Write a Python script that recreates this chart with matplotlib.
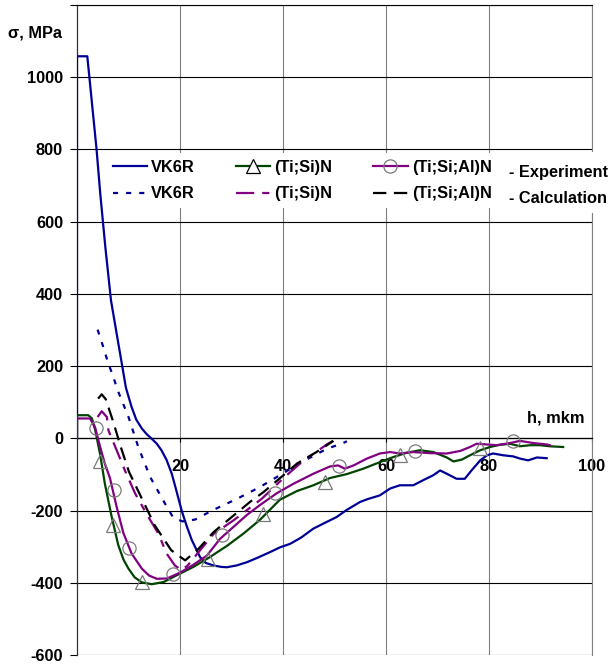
import matplotlib
matplotlib.use("Agg")
import matplotlib.pyplot as plt
from matplotlib.lines import Line2D
from matplotlib.patches import Rectangle

plt.rcParams['font.family'] = ['Liberation Sans', 'DejaVu Sans']
plt.rcParams['font.weight'] = 'bold'

# ---------------- data ----------------
vk_exp_x = [0, 0, 2.0, 3.8, 4.5, 5.5, 6.6, 7.7, 8.7, 9.5, 10.6, 11.5, 12.6, 13.5, 14.5, 15.5,
            16.4, 17.4, 18.4, 19.3, 20.3, 21.3, 22.3, 23.9, 25.0, 26.5, 28.0, 29.1, 31.0, 33.0,
            35.0, 37.5, 39.4, 41.4, 43.5, 45.9, 48.0, 50.4, 52.4, 55.0, 56.5, 58.8, 60.8, 62.7,
            65.3, 67.2, 69.2, 70.5, 71.8, 73.7, 75.3, 76.6, 78.3, 79.6, 80.8, 82.8, 84.7, 86.0,
            87.6, 89.3, 91.2]
vk_exp_y = [0, 1058, 1058, 800, 680, 530, 382, 290, 207, 140, 87, 52, 27, 12, -1, -15,
            -33, -60, -98, -145, -199, -243, -282, -329, -345, -352, -356, -357, -352, -343,
            -331, -315, -302, -292, -275, -250, -235, -218, -198, -176, -168, -158, -139, -130,
            -130, -116, -102, -89, -98, -112, -112, -89, -61, -47, -42, -47, -50, -56,
            -61, -53, -55]

vk_calc_x = [4.0, 5.1, 6.0, 7.05, 7.9, 10.0, 11.9, 14.2, 17.1, 18.7, 20.5, 22.9, 26.5, 31.0,
             35.5, 39.4, 43.6, 48.5, 51.7, 52.4]
vk_calc_y = [301, 253, 211, 170, 133, 59, -24, -107, -181, -220, -230, -225, -198, -168,
             -135, -102, -66, -29, -13, -8]

tisin_exp_x = [0, 0, 2.2, 2.9, 3.5, 4.5, 5.4, 6.7, 8.0, 9.0, 10.0, 11.2, 12.6, 14.5, 16.8,
               19.4, 22.6, 25.8, 27.8, 29.1, 32.3, 35.5, 39.4, 42.7, 45.9, 49.1, 52.4, 55.6,
               58.8, 61.4, 64.0, 66.6, 69.2, 71.8, 73.1, 74.7, 76.3, 78.3, 80.2, 82.1, 84.1,
               86.0, 88.0, 89.9, 91.8, 94.4]
tisin_exp_y = [0, 64, 64, 55, 25, -45, -125, -215, -295, -335, -361, -385, -399, -404, -398,
               -379, -356, -329, -310, -298, -264, -226, -170, -146, -130, -110, -99, -84,
               -66, -52, -40, -33, -38, -53, -64, -59, -47, -33, -24, -18, -15,
               -22, -19, -19, -22, -24]
tisin_mark_x = [4.5, 7.05, 12.6, 25.5, 36.2, 48.2, 62.7, 78.3]
tisin_mark_y = [-62, -241, -399, -333, -209, -121, -47, -28]

tisial_exp_x = [0, 0, 2.5, 3.5, 4.5, 5.4, 6.4, 7.7, 9.0, 10.6, 12.6, 14.0, 15.5, 17.5, 20.0,
                22.6, 25.2, 27.8, 30.4, 33.0, 35.5, 38.8, 42.0, 45.9, 49.1, 50.7, 52.0, 53.7,
                56.3, 58.8, 60.8, 62.7, 65.3, 68.5, 71.8, 74.4, 76.3, 77.6, 79.6, 81.5, 84.1,
                86.0, 88.6, 91.2, 91.8]
tisial_exp_y = [0, 55, 55, 31, -24, -70, -110, -190, -262, -319, -361, -380, -389, -388, -372,
                -350, -325, -278, -245, -212, -185, -152, -126, -98, -78, -75, -84, -75,
                -56, -42, -38, -42, -38, -41, -42, -35, -24, -15, -17, -19, -13,
                -7, -13, -17, -19]
tisial_mark_x = [3.6, 7.2, 10.0, 18.7, 28.1, 38.4, 50.9, 65.6, 84.7]
tisial_mark_y = [28, -144, -304, -377, -269, -150, -77, -35, -8]

tisin_calc_x = [4.0, 4.8, 5.8, 6.1, 7.7, 9.3, 11.3, 13.5, 15.8, 17.4, 19.0, 20.3, 21.5, 23.9,
                26.5, 30.4, 35.9, 40.1, 43.6, 48.5, 49.7]
tisin_calc_y = [59, 75, 59, 22, -33, -89, -153, -209, -264, -319, -352, -365, -352, -310,
                -265, -227, -167, -110, -66, -17, -7]

tisial_calc_x = [4.1, 4.8, 5.6, 7.05, 8.5, 10.1, 12.6, 15.1, 18.3, 21.0, 23.6, 26.5, 29.7,
                 33.6, 36.2, 40.1, 42.7, 46.5, 49.8]
tisial_calc_y = [110, 122, 108, 45, -24, -93, -167, -241, -310, -338, -306, -260, -222,
                 -176, -149, -102, -70, -38, -7]

x_ticks = [20, 40, 60, 80, 100]
y_ticks = [-600, -400, -200, 0, 200, 400, 600, 800, 1000, 1200]
y_tick_labels = ['-600', '-400', '-200', '0', '200', '400', '600', '800', '1000', '']

legend_labels = ['VK6R', 'VK6R', '(Ti;Si)N', '(Ti;Si)N', '(Ti;Si;Al)N', '(Ti;Si;Al)N']

# ---------------- styles ----------------
NAVY = '#000096'
GREEN = '#004400'
PURPLE = '#800080'
MARK = '#7a7a7a'
LW = 1.6
FS = 11.8

fig = plt.figure(figsize=(6.11, 6.66), dpi=100)
ax = fig.add_axes([77 / 611, 11 / 666, 515 / 611, 650 / 666])
ax.set_xlim(0, 100)
ax.set_ylim(-600, 1200)

ax.set_xticks(x_ticks)
ax.set_yticks(y_ticks)
ax.set_yticklabels(y_tick_labels)
ax.yaxis.grid(True, color='black', lw=0.8)
ax.xaxis.grid(True, color='#808080', lw=0.8)
ax.set_axisbelow(True)

ax.spines['top'].set_color('black')
ax.spines['top'].set_linewidth(0.8)
ax.spines['right'].set_color('#808080')
ax.spines['right'].set_linewidth(0.8)
ax.spines['left'].set_color('#333333')
ax.spines['left'].set_linewidth(0.9)
ax.spines['bottom'].set_position(('data', 0))
ax.spines['bottom'].set_color('black')
ax.spines['bottom'].set_linewidth(0.9)

ax.tick_params(axis='y', direction='out', length=5, width=0.8, pad=5, labelsize=FS)
ax.tick_params(axis='x', direction='out', length=3, width=0.8, pad=12, labelsize=FS)
for lab in ax.get_xticklabels() + ax.get_yticklabels():
    lab.set_fontweight('bold')

# ---------------- curves ----------------
ax.plot(vk_exp_x, vk_exp_y, color=NAVY, lw=LW, zorder=3)
ax.plot(vk_calc_x, vk_calc_y, color=NAVY, lw=LW, dashes=(2.3, 3.6), zorder=3)
ax.plot(tisin_exp_x, tisin_exp_y, color=GREEN, lw=LW, zorder=3)
ax.plot(tisial_exp_x, tisial_exp_y, color=PURPLE, lw=LW, zorder=3)
ax.plot(tisin_calc_x, tisin_calc_y, color=PURPLE, lw=LW, dashes=(8.2, 3.6, 3.2, 3.6), zorder=3)
ax.plot(tisial_calc_x, tisial_calc_y, color='black', lw=LW, dashes=(6.0, 3.4), zorder=3)
ax.plot(tisin_mark_x, tisin_mark_y, ls='none', marker='^', ms=9.5, mfc='none',
        mec=MARK, mew=0.9, zorder=4)
ax.plot(tisial_mark_x, tisial_mark_y, ls='none', marker='o', ms=9.5, mfc='none',
        mec=MARK, mew=0.9, zorder=4)

# ---------------- legend ----------------
handles = [
    Line2D([], [], color=NAVY, lw=LW),
    Line2D([], [], color=NAVY, lw=LW, dashes=(2.3, 3.6)),
    Line2D([], [], color=GREEN, lw=LW, marker='^', ms=9.5, mfc='white', mec='black', mew=0.9),
    Line2D([], [], color=PURPLE, lw=LW, dashes=(8.2, 3.6, 3.2, 3.6)),
    Line2D([], [], color=PURPLE, lw=LW, marker='o', ms=9.5, mfc='none', mec=MARK, mew=0.9),
    Line2D([], [], color='black', lw=LW, dashes=(6.0, 3.4)),
]
leg = ax.legend(handles, legend_labels, ncol=3, loc='upper left',
                bbox_to_anchor=(106 / 611, 1 - 153 / 666), bbox_transform=fig.transFigure,
                borderaxespad=0, borderpad=0.4, handlelength=2.1, handletextpad=0.25,
                columnspacing=2.5, labelspacing=0.72, frameon=True, fancybox=False,
                facecolor='white', edgecolor='none', framealpha=1,
                prop={'family': ['Liberation Sans', 'DejaVu Sans'], 'weight': 'bold', 'size': FS})
leg.set_zorder(6)

bg = Rectangle((494 / 611, 1 - 213 / 666), 117 / 611, 61 / 666,
               transform=fig.transFigure, facecolor='white', edgecolor='none',
               zorder=5, clip_on=False)
ax.add_artist(bg)
fig.text(509 / 611, 1 - 173 / 666, '- Experiment', ha='left', va='center',
         fontsize=FS, fontweight='bold', zorder=7)
fig.text(509 / 611, 1 - 198 / 666, '- Calculation', ha='left', va='center',
         fontsize=FS, fontweight='bold', zorder=7)

fig.text(8 / 611, 1 - 33 / 666, 'σ, MPa', ha='left', va='center',
         fontsize=FS, fontweight='bold')
fig.text(556 / 611, 1 - 418 / 666, 'h, mkm', ha='center', va='center',
         fontsize=FS, fontweight='bold')

fig.savefig('out.png', dpi=100)
